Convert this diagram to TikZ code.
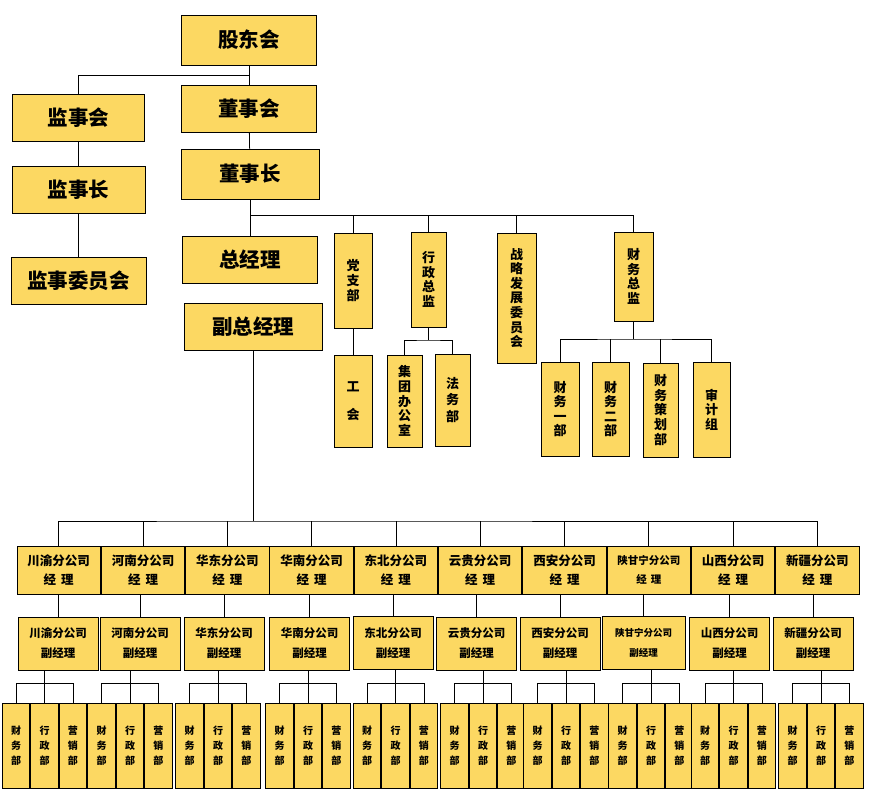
\documentclass[tikz,border=0pt]{standalone}
\usepackage{fontspec}
\setmainfont{Noto Sans CJK SC}
\usepackage{tikz}
\usetikzlibrary{positioning}
\definecolor{OrgYellow}{RGB}{252,216,98}

\begin{document}
\begin{tikzpicture}[
  x=1pt, y=-1pt,
  topbox/.style={draw, rectangle, line width=0.9pt, fill=OrgYellow,
                 inner sep=0pt, minimum width=135pt, minimum height=47pt,
                 text centered, font=\bfseries\fontsize{20.5}{22}\selectfont},
  vbox/.style={draw, rectangle, line width=0.9pt, fill=OrgYellow,
               inner sep=0pt, align=center,
               font=\bfseries\fontsize{13}{14.6}\selectfont},
  mgr/.style={draw, rectangle, line width=0.9pt, fill=OrgYellow,
              inner sep=0pt, minimum width=83.4pt, minimum height=48pt,
              align=center, font=\bfseries\fontsize{12.5}{19}\selectfont},
  dep/.style={draw, rectangle, line width=0.9pt, fill=OrgYellow,
              inner sep=0pt, minimum width=80pt, minimum height=53pt,
              align=center, font=\bfseries\fontsize{11.5}{20}\selectfont},
  dept/.style={draw, rectangle, line width=0.9pt, fill=OrgYellow,
               inner sep=0pt, minimum width=27.5pt, minimum height=85pt,
               align=center, font=\bfseries\fontsize{10}{15}\selectfont},
  link/.style={line width=0.8pt},
  node distance=0pt,
]
\useasboundingbox (0,0) rectangle (872,798);

\node[topbox, minimum height=50pt] (gdh)   at (249,40)    {股东会};
\node[topbox, minimum width=132pt] (jsh)   at (78.5,118)  {监事会};
\node[topbox]                      (dsh)   at (249,108.5) {董事会};
\node[topbox, minimum width=133pt] (jsz)   at (78.5,190)  {监事长};
\node[topbox, minimum width=138pt, minimum height=50pt] (dsz) at (250,174) {董事长};
\node[topbox]                      (jswyh) at (78.5,280.5) {监事委员会};
\node[topbox]                      (zjl)   at (250,259.5) {总经理};
\node[topbox, minimum width=138pt] (fzjl)  at (253,327)   {副总经理};

\node[vbox, minimum width=38pt, minimum height=95pt]  (dzb)   at (353,280.5) {党\\支\\部};
\node[vbox, minimum width=38pt, minimum height=92pt]  (gh)    at (353,401)   {工\\[13pt]会};
\node[vbox, minimum width=35pt, minimum height=95pt]  (xzzj)  at (428.5,279.5) {行\\政\\总\\监};
\node[vbox, minimum width=35pt, minimum height=92pt]  (jtbgs) at (404.5,401) {集\\团\\办\\公\\室};
\node[vbox, minimum width=35pt, minimum height=92pt]  (fwb)   at (452.5,400) {法\\[2pt]务\\[2pt]部};
\node[vbox, minimum width=39pt, minimum height=130pt] (zlwyh) at (516.5,298) {战\\略\\发\\展\\委\\员\\会};
\node[vbox, minimum width=39pt, minimum height=89pt]  (cwzj)  at (633.5,276.5) {财\\务\\总\\监};
\node[vbox, minimum width=38pt, minimum height=94pt]  (cw1)   at (560,409)   {财\\务\\一\\部};
\node[vbox, minimum width=37pt, minimum height=94pt]  (cw2)   at (610.5,409) {财\\务\\二\\部};
\node[vbox, minimum width=35pt, minimum height=94pt]  (cwch)  at (660.5,410) {财\\务\\策\\划\\部};
\node[vbox, minimum width=37pt, minimum height=95pt]  (sjz)   at (711.5,409.5) {审\\计\\组};

\coordinate (bus0) at (249,75);
\coordinate (bus1) at (250,215);
\coordinate (bus2) at (253,521);
\coordinate (bus3) at (428.5,340);
\coordinate (bus4) at (633.5,339);

\draw[link] (gdh) -- (dsh);
\draw[link] (bus0) -| (jsh.north);
\draw[link] (jsh) -- (jsz);
\draw[link] (jsz) -- (jswyh);
\draw[link] (dsh) -- (dsz);
\draw[link] (dsz) -- (zjl);
\draw[link] (bus1) -| (cwzj.north);
\draw[link] (bus1 -| dzb) -- (dzb.north);
\draw[link] (bus1 -| xzzj) -- (xzzj.north);
\draw[link] (bus1 -| zlwyh) -- (zlwyh.north);
\draw[link] (dzb) -- (gh);
\draw[link] (xzzj) -- (bus3);
\draw[link] (jtbgs.north) |- (bus3) -| (fwb.north);
\draw[link] (cwzj) -- (bus4);
\draw[link] (cw1.north) |- (bus4) -| (sjz.north);
\draw[link] (bus4 -| cw2) -- (cw2.north);
\draw[link] (bus4 -| cwch) -- (cwch.north);
\draw[link] (fzjl) -- (bus2);

\node[mgr] (cy) at (58.7,570) {川渝分公司\\经\hspace{5pt}理};
\node[mgr, right=of cy]  (hn)  {河南分公司\\经\hspace{5pt}理};
\node[mgr, right=of hn]  (hd)  {华东分公司\\经\hspace{5pt}理};
\node[mgr, right=of hd]  (hna) {华南分公司\\经\hspace{5pt}理};
\node[mgr, right=of hna] (db)  {东北分公司\\经\hspace{5pt}理};
\node[mgr, right=of db]  (yg)  {云贵分公司\\经\hspace{5pt}理};
\node[mgr, right=of yg]  (xa)  {西安分公司\\经\hspace{5pt}理};
\node[mgr, right=of xa, font=\bfseries\fontsize{10.5}{19}\selectfont] (sgn) {陕甘宁分公司\\经\hspace{4pt}理};
\node[mgr, right=of sgn] (sx)  {山西分公司\\经\hspace{5pt}理};
\node[mgr, right=of sx]  (xj)  {新疆分公司\\经\hspace{5pt}理};

\draw[link] (cy.north) |- (bus2) -| (xj.north);
\draw[link] (bus2 -| hn) -- (hn.north);
\draw[link] (bus2 -| hd) -- (hd.north);
\draw[link] (bus2 -| hna) -- (hna.north);
\draw[link] (bus2 -| db) -- (db.north);
\draw[link] (bus2 -| yg) -- (yg.north);
\draw[link] (bus2 -| xa) -- (xa.north);
\draw[link] (bus2 -| sgn) -- (sgn.north);
\draw[link] (bus2 -| sx) -- (sx.north);

\node[dep] (cyf)  at (58,643.5)    {川渝分公司\\副经理};
\node[dep] (hnf)  at (140,643.5)   {河南分公司\\副经理};
\node[dep] (hdf)  at (224,643.5)   {华东分公司\\副经理};
\node[dep] (hnaf) at (309.5,643.5) {华南分公司\\副经理};
\node[dep] (dbf)  at (393,643)     {东北分公司\\副经理};
\node[dep] (ygf)  at (476.5,643.5) {云贵分公司\\副经理};
\node[dep] (xaf)  at (560,643.5)   {西安分公司\\副经理};
\node[dep, minimum width=83pt, font=\bfseries\fontsize{9.5}{20}\selectfont] (sgnf) at (643.5,642.5) {陕甘宁分公司\\副经理};
\node[dep] (sxf)  at (729.5,643.5) {山西分公司\\副经理};
\node[dep] (xjf)  at (813,643.5)   {新疆分公司\\副经理};

\draw[link] (cyf.north) -- (cyf.north |- cy.south);
\draw[link] (hnf.north) -- (hnf.north |- hn.south);
\draw[link] (hdf.north) -- (hdf.north |- hd.south);
\draw[link] (hnaf.north) -- (hnaf.north |- hna.south);
\draw[link] (dbf.north) -- (dbf.north |- db.south);
\draw[link] (ygf.north) -- (ygf.north |- yg.south);
\draw[link] (xaf.north) -- (xaf.north |- xa.south);
\draw[link] (sgnf.north) -- (sgnf.north |- sgn.south);
\draw[link] (sxf.north) -- (sxf.north |- sx.south);
\draw[link] (xjf.north) -- (xjf.north |- xj.south);

\node[dept] (cyxz) at (44.5,745.5) {行\\政\\部};
\node[dept, left=of cyxz]  (cycw) {财\\务\\部};
\node[dept, right=of cyxz] (cyyx) {营\\销\\部};
\node[dept] (hnxz) at (130,745.5) {行\\政\\部};
\node[dept, left=of hnxz]  (hncw) {财\\务\\部};
\node[dept, right=of hnxz] (hnyx) {营\\销\\部};
\node[dept] (hdxz) at (218,745.5) {行\\政\\部};
\node[dept, left=of hdxz]  (hdcw) {财\\务\\部};
\node[dept, right=of hdxz] (hdyx) {营\\销\\部};
\node[dept] (hnaxz) at (308,745.5) {行\\政\\部};
\node[dept, left=of hnaxz]  (hnacw) {财\\务\\部};
\node[dept, right=of hnaxz] (hnayx) {营\\销\\部};
\node[dept] (dbxz) at (395.5,745.5) {行\\政\\部};
\node[dept, left=of dbxz]  (dbcw) {财\\务\\部};
\node[dept, right=of dbxz] (dbyx) {营\\销\\部};
\node[dept] (ygxz) at (483,745.5) {行\\政\\部};
\node[dept, left=of ygxz]  (ygcw) {财\\务\\部};
\node[dept, right=of ygxz] (ygyx) {营\\销\\部};
\node[dept] (xaxz) at (566,745.5) {行\\政\\部};
\node[dept, left=of xaxz]  (xacw) {财\\务\\部};
\node[dept, right=of xaxz] (xayx) {营\\销\\部};
\node[dept] (sgnxz) at (651,745.5) {行\\政\\部};
\node[dept, left=of sgnxz]  (sgncw) {财\\务\\部};
\node[dept, right=of sgnxz] (sgnyx) {营\\销\\部};
\node[dept] (sxxz) at (733.5,745.5) {行\\政\\部};
\node[dept, left=of sxxz]  (sxcw) {财\\务\\部};
\node[dept, right=of sxxz] (sxyx) {营\\销\\部};
\node[dept] (xjxz) at (821,745.5) {行\\政\\部};
\node[dept, left=of xjxz]  (xjcw) {财\\务\\部};
\node[dept, right=of xjxz] (xjyx) {营\\销\\部};

\draw[link] (cyxz.north) -- (cyxz.north |- cyf.south);
\draw[link] (cycw.north) -- ++(0,-19) -| (cyyx.north);
\draw[link] (hnxz.north) -- (hnxz.north |- hnf.south);
\draw[link] (hncw.north) -- ++(0,-19) -| (hnyx.north);
\draw[link] (hdxz.north) -- (hdxz.north |- hdf.south);
\draw[link] (hdcw.north) -- ++(0,-19) -| (hdyx.north);
\draw[link] (hnaxz.north) -- (hnaxz.north |- hnaf.south);
\draw[link] (hnacw.north) -- ++(0,-19) -| (hnayx.north);
\draw[link] (dbxz.north) -- (dbxz.north |- dbf.south);
\draw[link] (dbcw.north) -- ++(0,-19) -| (dbyx.north);
\draw[link] (ygxz.north) -- (ygxz.north |- ygf.south);
\draw[link] (ygcw.north) -- ++(0,-19) -| (ygyx.north);
\draw[link] (xaxz.north) -- (xaxz.north |- xaf.south);
\draw[link] (xacw.north) -- ++(0,-19) -| (xayx.north);
\draw[link] (sgnxz.north) -- (sgnxz.north |- sgnf.south);
\draw[link] (sgncw.north) -- ++(0,-19) -| (sgnyx.north);
\draw[link] (sxxz.north) -- (sxxz.north |- sxf.south);
\draw[link] (sxcw.north) -- ++(0,-19) -| (sxyx.north);
\draw[link] (xjxz.north) -- (xjxz.north |- xjf.south);
\draw[link] (xjcw.north) -- ++(0,-19) -| (xjyx.north);
\end{tikzpicture}
\end{document}
